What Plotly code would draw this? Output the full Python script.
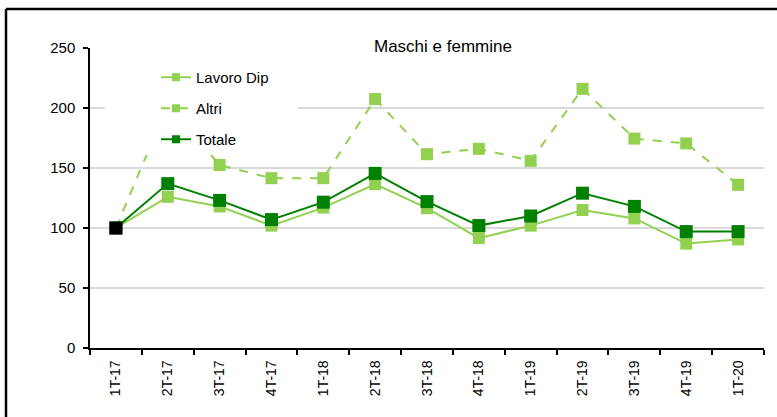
import plotly.graph_objects as go

# Quarterly index (1T-17 = 100)
periodi = ["1T-17", "2T-17", "3T-17", "4T-17", "1T-18", "2T-18", "3T-18",
           "4T-18", "1T-19", "2T-19", "3T-19", "4T-19", "1T-20"]
lavoro_dip = [100, 126, 118, 102, 117, 136.5, 116.5, 91.5, 102, 115, 108, 87, 90.5]
altri = [100, 203, 152.5, 141.5, 141.5, 207.5, 161.5, 166, 156, 216, 174.5, 170.5, 136]
totale = [100, 137, 123, 107, 121.5, 145.5, 122, 102, 110, 129, 118, 97, 97]

VERDE_CHIARO = "#92D050"
VERDE_SCURO = "#008000"
FONT = "Liberation Sans, Arial, sans-serif"

W, H = 777, 417
L, R, T, B = 90, 13, 48, 69
PW, PH = W - L - R, H - T - B


def px_x(p):
    return (p - L) / PW


def px_y(p):
    return (H - B - p) / PH


fig = go.Figure()

series = [
    ("Lavoro Dip", lavoro_dip, VERDE_CHIARO, "solid", 12),
    ("Altri", altri, VERDE_CHIARO, "dash", 12),
    ("Totale", totale, VERDE_SCURO, "solid", 13),
]

for nome, valori, colore, tratto, dim in series:
    fig.add_trace(go.Scatter(
        x=periodi, y=valori, mode="lines+markers", name=nome,
        line=dict(color=colore, width=2, dash=tratto),
        marker=dict(symbol="square", size=dim, color=colore),
        showlegend=False, hoverinfo="skip",
    ))

# base period highlighted in black
fig.add_trace(go.Scatter(
    x=periodi[:1], y=totale[:1], mode="markers",
    marker=dict(symbol="square", size=13, color="black"),
    showlegend=False, hoverinfo="skip",
))

# legend entries with compact symbols
for i, (nome, valori, colore, tratto, dim) in enumerate(series):
    fig.add_trace(go.Scatter(
        x=[periodi[0]], y=[None], mode="lines+markers", name=nome,
        line=dict(color=colore, width=2, dash=tratto),
        marker=dict(symbol="square", size=8, color=colore),
        legendgroup=f"g{i}", showlegend=True,
    ))

fig.update_layout(
    width=W, height=H,
    margin=dict(l=L, r=R, t=T, b=B),
    paper_bgcolor="white", plot_bgcolor="white",
    font=dict(family=FONT, size=14, color="black"),
    showlegend=True,
    legend=dict(
        x=px_x(156), y=px_y(61), xanchor="left", yanchor="top",
        bgcolor="rgba(0,0,0,0)", borderwidth=0,
        font=dict(family=FONT, size=15, color="black"),
        tracegroupgap=8.5, traceorder="grouped",
    ),
    xaxis=dict(
        type="category", range=[-0.5, len(periodi) - 0.5],
        showgrid=False, showline=True,
        linecolor="black", linewidth=1.5,
        ticks="outside", ticklen=5, tickcolor="black", tickwidth=1.5,
        tickson="boundaries", tickangle=-90, ticklabelstandoff=5,
        tickfont=dict(family=FONT, size=14),
    ),
    yaxis=dict(
        range=[0, 250], dtick=50, showgrid=True,
        gridcolor="#D9D9D9", gridwidth=1.5, zeroline=False,
        showline=True, linecolor="black", linewidth=1.5,
        ticks="outside", ticklen=5, tickcolor="black", tickwidth=1.5,
        ticklabelstandoff=5,
        tickfont=dict(family=FONT, size=15),
    ),
    annotations=[dict(
        text="Maschi e femmine", xref="paper", yref="paper",
        x=px_x(443), y=px_y(47), xanchor="center", yanchor="middle",
        showarrow=False, bgcolor="white", borderpad=6,
        font=dict(family=FONT, size=17, color="black"),
    )],
    shapes=[
        # white panel behind the legend
        dict(type="rect", xref="paper", yref="paper", layer="above",
             x0=px_x(105), y0=px_y(55), x1=px_x(298), y1=px_y(155),
             fillcolor="white", line=dict(width=0)),
        dict(type="line", xref="paper", yref="paper",
             x0=px_x(6), y0=px_y(9), x1=px_x(790), y1=px_y(9),
             line=dict(color="black", width=2.5)),
        dict(type="line", xref="paper", yref="paper",
             x0=px_x(6), y0=px_y(9), x1=px_x(6), y1=px_y(430),
             line=dict(color="black", width=2.5)),
    ],
)

fig.write_html("out.html")
